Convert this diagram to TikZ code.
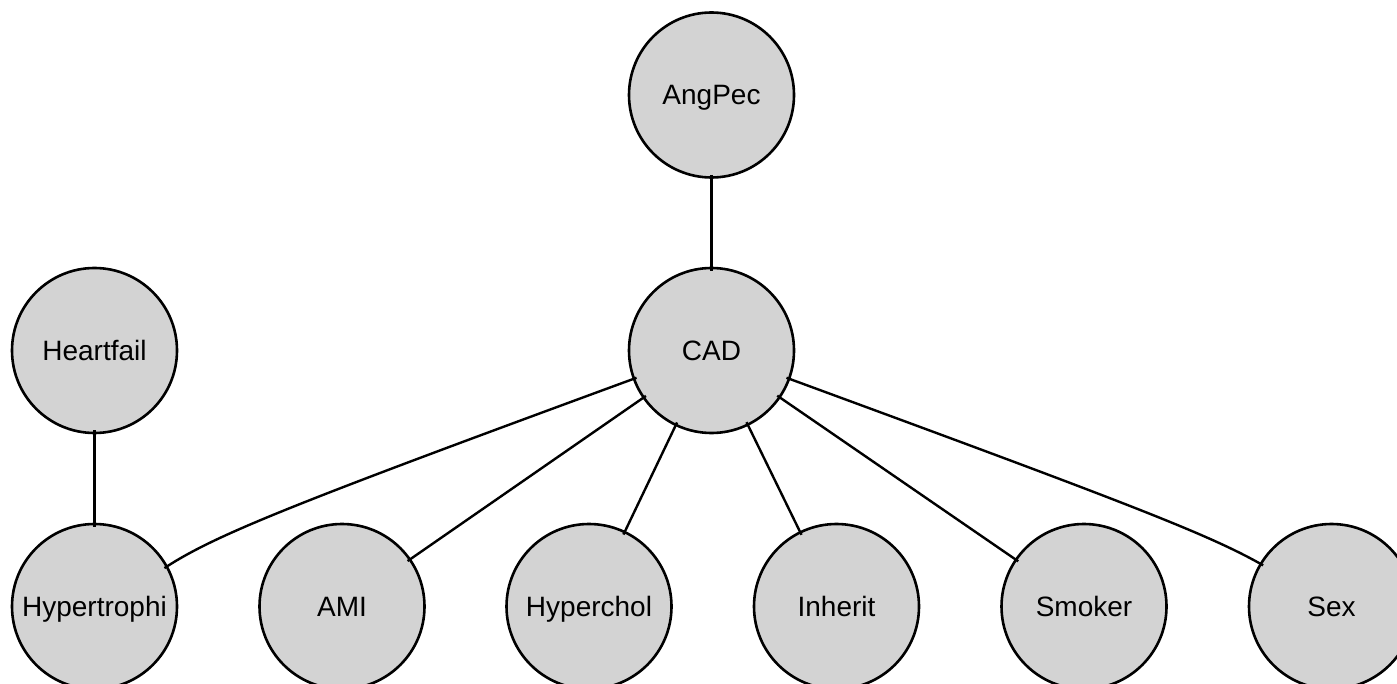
\documentclass[tikz,border=0pt]{standalone}
\usepackage{fontspec}
\setmainfont{Liberation Sans}
\definecolor{nodegray}{RGB}{211,211,211}
\begin{document}
\begin{tikzpicture}[x=1pt,y=-1pt,
  nd/.style={circle,draw=black,fill=nodegray,line width=2.6pt,minimum size=165pt,inner sep=0pt,text height=20pt,text depth=0pt,font=\fontsize{28}{32}\selectfont},
  ed/.style={line width=2.4pt,shorten <=-4pt,shorten >=-4pt}]
\useasboundingbox (0,0) rectangle (1397,684);
\node[nd] (angpec) at (711.5,95) {AngPec};
\node[nd] (cad) at (711.5,350.5) {CAD};
\node[nd] (heart) at (94.5,350.5) {Heartfail};
\node[nd] (hyp) at (94.5,606.5) {Hypertrophi};
\node[nd] (ami) at (342,606.5) {AMI};
\node[nd] (chol) at (589,606.5) {Hyperchol};
\node[nd] (inh) at (836.5,606.5) {Inherit};
\node[nd] (smk) at (1084,606.5) {Smoker};
\node[nd] (sex) at (1331.5,606.5) {Sex};
\draw[ed] (angpec) -- (cad);
\draw[ed] (heart) -- (hyp);
\draw[ed] (cad.200) .. controls (290,505) and (215,535) .. (hyp.29);
\draw[ed] (cad) -- (ami);
\draw[ed] (cad) -- (chol);
\draw[ed] (cad) -- (inh);
\draw[ed] (cad) -- (smk);
\draw[ed] (cad.-20) .. controls (1133,505) and (1210,535) .. (sex.149);
\end{tikzpicture}
\end{document}
